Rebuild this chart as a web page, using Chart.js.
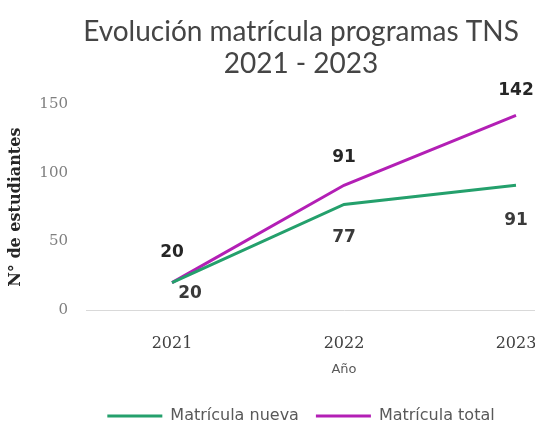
<!DOCTYPE html>
<html>
<head>
<meta charset="utf-8">
<script src="https://cdn.jsdelivr.net/npm/chart.js@4"></script>
<style>
  html, body { margin: 0; padding: 0; background: #ffffff; overflow: hidden; }
  #wrap { width: 604px; height: 434px; }
</style>
</head>
<body>
<div id="wrap"><canvas id="matriculaChart"></canvas></div>
<script>
const years = ['2021', '2022', '2023'];
const matriculaNueva = [20, 77, 91];
const matriculaTotal = [20, 91, 142];
const yTicks = [0, 50, 100, 150];

const green = '#24a06c';
const magenta = '#b31fb5';

// where each value label sits relative to its point (dx, dy)
const nuevaLabelOffset = [[18, 11], [0, 33], [0, 35]];
const totalLabelOffset = [[0, -30], [0, -28], [0, -25]];

const valueLabels = {
    id: 'valueLabels',
    afterDatasetsDraw(chart) {
        const ctx = chart.ctx;
        const offsets = [nuevaLabelOffset, totalLabelOffset];
        const colors = ['#3a3a3a', '#262626'];
        ctx.save();
        ctx.font = 'bold 17px "DejaVu Sans"';
        ctx.textAlign = 'center';
        ctx.textBaseline = 'middle';
        chart.data.datasets.forEach((ds, d) => {
            const meta = chart.getDatasetMeta(d);
            meta.data.forEach((pt, i) => {
                const [dx, dy] = offsets[d][i];
                ctx.fillStyle = colors[d];
                ctx.fillText(String(ds.data[i]), pt.x + dx, pt.y + dy);
            });
        });
        ctx.restore();
    }
};

const ctx = document.getElementById('matriculaChart').getContext('2d');
new Chart(ctx, {
    type: 'line',
    data: {
        labels: years,
        datasets: [{
            label: 'Matrícula nueva',
            data: matriculaNueva,
            borderColor: green,
            backgroundColor: green,
            borderWidth: 3,
            pointRadius: 0,
            tension: 0
        }, {
            label: 'Matrícula total',
            data: matriculaTotal,
            borderColor: magenta,
            backgroundColor: magenta,
            borderWidth: 3,
            pointRadius: 0,
            tension: 0
        }]
    },
    options: {
        responsive: true,
        maintainAspectRatio: false,
        animation: false,
        layout: { padding: { top: 10, left: 0, right: 2, bottom: 0 } },
        plugins: {
            title: {
                display: true,
                text: ['Evolución matrícula programas TNS', '2021 - 2023'],
                color: '#454545',
                font: { family: 'Lato', size: 28, weight: 'normal', lineHeight: 1.15 },
                padding: { top: 6, bottom: 24 }
            },
            legend: {
                position: 'bottom',
                labels: {
                    usePointStyle: true,
                    pointStyle: 'line',
                    pointStyleWidth: 55,
                    padding: 17,
                    color: '#595959',
                    font: { family: 'DejaVu Sans', size: 16 }
                }
            },
            tooltip: { enabled: false }
        },
        scales: {
            x: {
                offset: true,
                grid: { display: false },
                border: { display: true, color: '#d9d9d9', width: 1 },
                ticks: {
                    color: '#404040',
                    padding: 16,
                    font: { family: 'DejaVu Serif', size: 16 }
                },
                title: {
                    display: true,
                    text: 'Año',
                    color: '#595959',
                    font: { family: 'DejaVu Sans', size: 13 },
                    padding: { top: 0, bottom: 14 }
                },
                afterFit(scale) { scale.height = 81; }
            },
            y: {
                min: 0,
                max: 150,
                afterBuildTicks(scale) { scale.ticks = yTicks.map(v => ({ value: v })); },
                grid: { display: false },
                border: { display: false },
                ticks: {
                    color: '#7f7f7f',
                    padding: 10,
                    font: { family: 'DejaVu Serif', size: 15 }
                },
                title: {
                    display: true,
                    text: 'N° de estudiantes',
                    color: '#262626',
                    font: { family: 'DejaVu Serif', size: 16, weight: 'bold' },
                    padding: { top: 6 }
                },
                afterFit(scale) { scale.width = 86; }
            }
        }
    },
    plugins: [valueLabels]
});
</script>
</body>
</html>
